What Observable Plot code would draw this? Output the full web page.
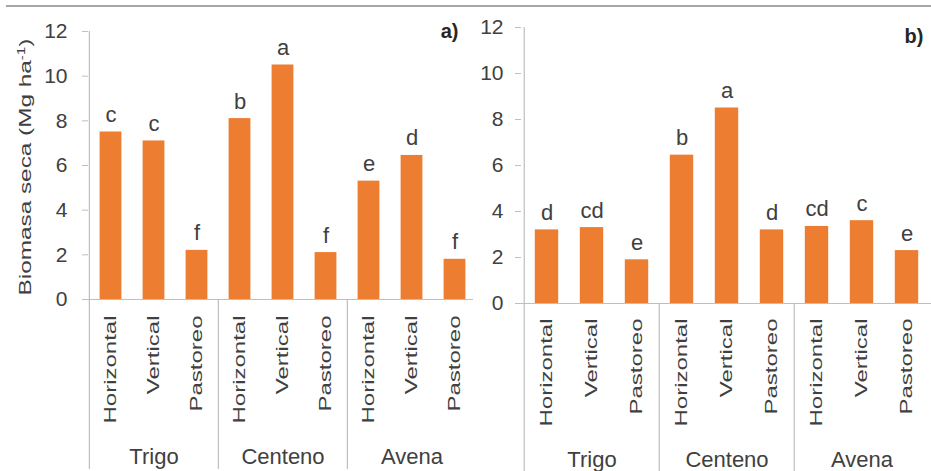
<!DOCTYPE html>
<html><head><meta charset="utf-8">
<script src="https://cdn.jsdelivr.net/npm/d3@7"></script>
<script src="https://cdn.jsdelivr.net/npm/@observablehq/plot@0.6"></script>
<style>
body{margin:0;background:#fff;}
#wrap{position:relative;width:931px;height:471px;overflow:hidden;background:#fff;font-family:"Liberation Sans",Arial,sans-serif;color:#404040;}
.panel{position:absolute;top:0;}
#topline{position:absolute;left:6px;top:5px;width:925px;height:2px;background:#a6a6a6;}
#ylab{position:absolute;left:26px;top:167px;transform:translate(-50%,-50%) rotate(-90deg) scaleX(1.52);white-space:nowrap;font-size:16px;line-height:18px;color:#404040;}
#ylab sup{font-size:10px;vertical-align:6px;line-height:0;}
</style>
</head><body>
<div id="wrap">
  <div id="topline"></div>
  <div id="pA" class="panel" style="left:0px;width:480px;"></div>
  <div id="pB" class="panel" style="left:460px;width:471px;"></div>
  <div id="ylab">Biomasa seca (Mg ha<sup>-1</sup>)</div>
</div>
<script>
const groups = ["Trigo", "Centeno", "Avena"];
const treatments = ["Horizontal", "Vertical", "Pastoreo"];
const biomasaA = [7.5, 7.1, 2.2, 8.1, 10.5, 2.1, 5.3, 6.45, 1.8];
const letrasA = ["c", "c", "f", "b", "a", "f", "e", "d", "f"];
const biomasaB = [3.2, 3.3, 1.9, 6.45, 8.5, 3.2, 3.35, 3.6, 2.3];
const letrasB = ["d", "cd", "e", "b", "a", "d", "cd", "c", "e"];
const yTicks = [0, 2, 4, 6, 8, 10, 12];
const panelLabels = ["a)", "b)"];

const GRAY = "#bfbfbf";
const TXT = "#404040";
const ORANGE = "#ED7D31";
const FONT = "Liberation Sans, Arial, sans-serif";

function buildRows(values, letters) {
  return groups.flatMap((g, gi) => treatments.map((t, ti) => ({
    key: g + "|" + t, group: g, treatment: t,
    value: values[gi * 3 + ti], letter: letters[gi * 3 + ti]
  })));
}

function panel(values, letters, label, o) {
  const rows = buildRows(values, letters);
  const keys = rows.map(d => d.key);
  const H = 471;
  const step = (o.width - o.marginLeft - o.marginRight) / keys.length;
  const svg = Plot.plot({
    width: o.width, height: H,
    marginLeft: o.marginLeft, marginRight: o.marginRight,
    marginTop: o.marginTop, marginBottom: o.marginBottom,
    style: {fontFamily: FONT, background: "transparent", color: TXT, overflow: "visible"},
    x: {type: "band", domain: keys, padding: 0},
    y: {domain: [0, 12]},
    marks: [
      Plot.ruleY([0], {stroke: GRAY, strokeWidth: 1.2, insetRight: o.baseInsetRight}),
      Plot.ruleX([keys[0]], {y1: 12, y2: 0, dx: -step / 2, insetBottom: -o.ext, stroke: GRAY, strokeWidth: 1.2}),
      Plot.ruleX(groups.slice(1).map(g => g + "|" + treatments[0]), {y1: 0, y2: 0, dx: -step / 2, insetBottom: -o.ext, stroke: GRAY, strokeWidth: 1.2}),
      Plot.axisY({ticks: yTicks, tickSize: 6, tickPadding: o.tickPadding, fontSize: 21, stroke: GRAY, fill: TXT, label: null, tickFormat: d => String(d)}),
      Plot.barY(rows, {x: "key", y: "value", fill: ORANGE, insetLeft: o.inset, insetRight: o.inset}),
      Plot.text(rows, {x: "key", y: "value", text: "letter", dy: -10, lineAnchor: "bottom", fontSize: 22, fill: TXT}),
      Plot.axisX({tickSize: 0, tickRotate: -90, tickPadding: o.labelPad, fontSize: 16, fill: TXT, label: null, tickFormat: k => k.split("|")[1]}),
      Plot.text(groups, {x: g => g + "|" + treatments[1], frameAnchor: "bottom", dy: o.groupDy, fontSize: 22, lineAnchor: "middle", fill: TXT}),
      Plot.text([label], {frameAnchor: "top-right", dx: o.labDx, dy: o.labDy, fontSize: 20, fontWeight: "bold", textAnchor: "end", lineAnchor: "top", fill: "#262626"})
    ]
  });
  // stretch rotated labels along their length (as in the reference)
  svg.querySelectorAll("text").forEach(t => {
    const tr = t.getAttribute("transform");
    if (tr && tr.includes("rotate(-90")) t.setAttribute("transform", tr + " scale(1.5,1)");
  });
  return svg;
}

document.getElementById("pA").appendChild(panel(biomasaA, letrasA, panelLabels[0], {
  width: 480, marginLeft: 88, marginRight: 3, marginTop: 31, marginBottom: 172,
  inset: 10.6, tickPadding: 15, labelPad: 16, groupDy: 157, ext: 170, baseInsetRight: 4,
  labDx: -19, labDy: -8
}));
document.getElementById("pB").appendChild(panel(biomasaB, letrasB, panelLabels[1], {
  width: 471, marginLeft: 61, marginRight: 0, marginTop: 27, marginBottom: 168,
  inset: 10.8, tickPadding: 12, labelPad: 15, groupDy: 156, ext: 170, baseInsetRight: 0,
  labDx: -8, labDy: 1
}));
</script>
</body></html>
